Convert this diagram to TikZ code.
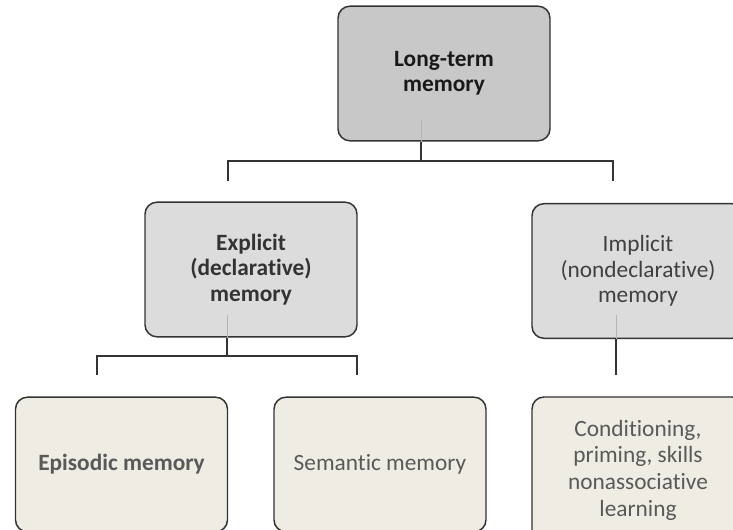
\documentclass[tikz,border=0pt]{standalone}
\usepackage{fontspec}
\setmainfont[Ligatures=NoCommon]{Carlito}
\usetikzlibrary{calc}

\definecolor{boxline}{HTML}{333333}
\definecolor{topfill}{HTML}{C8C8C8}
\definecolor{midfill}{HTML}{DCDCDC}
\definecolor{lowfill}{HTML}{EFECE4}
\definecolor{stemgray}{HTML}{B4B4B4}

\begin{document}
\begin{tikzpicture}[x=0.75pt, y=-0.75pt,
	membox/.style={draw=boxline, line width=1.1pt, rounded corners=9pt, minimum width=159pt, minimum height=101pt, align=center, font=\fontsize{17.5}{19}\selectfont},
	boldbox/.style={membox, font=\fontsize{17.5}{19}\selectfont\bfseries},
	bus/.style={draw=boxline, line width=1.1pt}]

	% page frame, the lower boxes run off its edges
	\useasboundingbox (0,0) rectangle (733,530);
	\clip (0,0) rectangle (733,530);

	% the boxes
	\node[boldbox, fill=topfill, text=black!90] (ltm) at (444,73.5) {Long-term\\memory};
	\node[boldbox, fill=midfill, text=black!80] (expl) at (251,269.5) {Explicit\\(declarative)\\memory};
	\node[membox, fill=midfill, text=black!75] (impl) at (638,271) {Implicit\\(nondeclarative)\\memory};
	\node[boldbox, fill=lowfill, text=black!65] (epi) at (121.5,464.5) {Episodic memory};
	\node[membox, fill=lowfill, text=black!65] (sem) at (380,464.5) {Semantic memory};
	\node[membox, fill=lowfill, text=black!65, minimum height=109.5pt, font=\fontsize{17.5}{20}\selectfont] (cond) at (638,470) {Conditioning,\\priming, skills\\nonassociative\\learning};

	% faint stems inside the boxes
	\draw[stemgray, thin] (421,120) -- (ltm.south -| 421,0);
	\draw[stemgray, thin] (227,315) -- (expl.south -| 227,0);
	\draw[stemgray, thin] (616,315) -- (impl.south -| 616,0);

	% the connectors
	\coordinate (ltmleft) at (228,181);
	\coordinate (ltmright) at (613,181);
	\coordinate (explleft) at (97,375);
	\coordinate (explright) at (357,375);
	\coordinate (implend) at (616,375);
	\draw[bus] (ltm.south -| 421,0) -- (421,161);
	\draw[bus] (ltmleft) |- (421,161) -| (ltmright);
	\draw[bus] (expl.south -| 227,0) -- (227,356);
	\draw[bus] (explleft) |- (227,356) -| (explright);
	\draw[bus] (impl.south -| implend) -- (implend);

\end{tikzpicture}
\end{document}
